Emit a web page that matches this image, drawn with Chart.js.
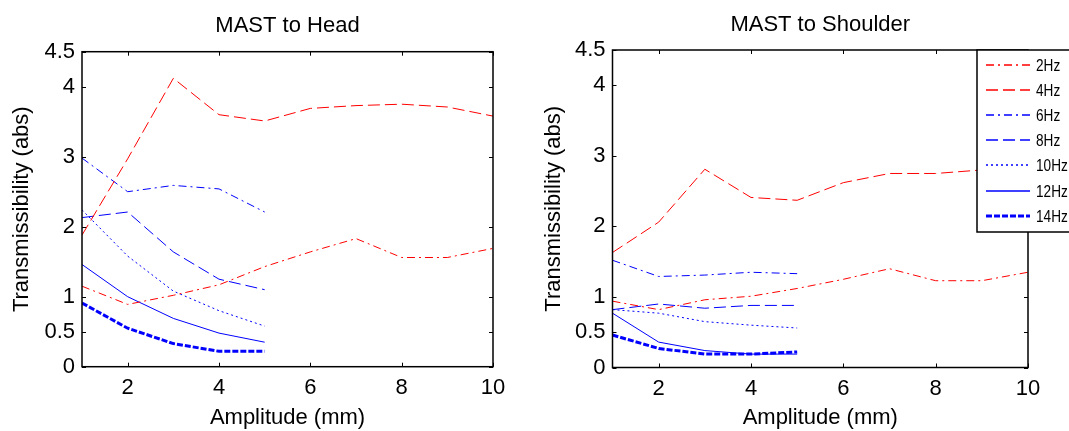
<!DOCTYPE html>
<html>
<head>
<meta charset="utf-8">
<title>MAST transmissibility</title>
<script src="https://cdn.jsdelivr.net/npm/chart.js@4.4.1/dist/chart.umd.min.js"></script>
<style>
  html, body { margin: 0; padding: 0; background: #fff; }
  #wrap { position: relative; width: 1069px; height: 431px; overflow: hidden; background: #fff; }
  canvas { position: absolute; top: 0; }
  #chartHead { left: 0; }
  #chartShoulder { left: 540px; }
</style>
</head>
<body>
<div id="wrap">
  <canvas id="chartHead" width="540" height="431"></canvas>
  <canvas id="chartShoulder" width="529" height="431"></canvas>
</div>
<script>
// amplitude (mm) on the x axis
const amplitude = [1, 2, 3, 4, 5, 6, 7, 8, 9, 10];
const xTicks = [2, 4, 6, 8, 10];
const yTicks = [0, 0.5, 1, 2, 3, 4, 4.5];
const freqLabels = ["2Hz", "4Hz", "6Hz", "8Hz", "10Hz", "12Hz", "14Hz"];

// MAST to Head
const head2Hz = [1.15, 0.89, 1.02, 1.17, 1.43, 1.64, 1.83, 1.56, 1.56, 1.69];
const head4Hz = [1.88, 2.97, 4.12, 3.60, 3.51, 3.69, 3.73, 3.75, 3.71, 3.58];
const head6Hz = [2.98, 2.50, 2.59, 2.54, 2.21];
const head8Hz = [2.13, 2.21, 1.64, 1.25, 1.10];
const head10Hz = [2.24, 1.58, 1.08, 0.80, 0.58];
const head12Hz = [1.46, 1.00, 0.69, 0.48, 0.35];
const head14Hz = [0.91, 0.55, 0.33, 0.22, 0.22];

// MAST to Shoulder
const sh2Hz = [0.94, 0.82, 0.96, 1.01, 1.12, 1.25, 1.40, 1.23, 1.23, 1.35];
const sh4Hz = [1.63, 2.06, 2.81, 2.41, 2.37, 2.62, 2.75, 2.75, 2.80, 2.85];
const sh6Hz = [1.52, 1.29, 1.31, 1.35, 1.33];
const sh8Hz = [0.82, 0.90, 0.84, 0.88, 0.88];
const sh10Hz = [0.82, 0.77, 0.65, 0.60, 0.56];
const sh12Hz = [0.77, 0.36, 0.24, 0.19, 0.19];
const sh14Hz = [0.46, 0.27, 0.19, 0.19, 0.22];

const FONT = "'Liberation Sans', Arial, Helvetica, sans-serif";
const RED = "#ff0000";
const BLUE = "#0000ff";

// line style per frequency (matlab-ish)
const lineStyles = [
  { color: RED, width: 1, dash: [8, 4, 2, 4] },
  { color: RED, width: 1, dash: [12, 5] },
  { color: BLUE, width: 1, dash: [8, 4, 2, 4] },
  { color: BLUE, width: 1, dash: [12, 5] },
  { color: BLUE, width: 1, dash: [2, 3] },
  { color: BLUE, width: 1, dash: [] },
  { color: BLUE, width: 3, dash: [6, 2] },
];

// box around plot area + inward ticks on all four sides
const frameTicks = {
  id: "frameTicks",
  afterDatasetsDraw(chart) {
    const { ctx, chartArea: a, scales } = chart;
    ctx.save();
    ctx.strokeStyle = "#000";
    ctx.lineWidth = 1;
    ctx.setLineDash([]);
    ctx.beginPath();
    scales.x.ticks.forEach((t) => {
      const px = Math.round(scales.x.getPixelForValue(t.value)) + 0.5;
      ctx.moveTo(px, a.bottom);
      ctx.lineTo(px, a.bottom - 4);
      ctx.moveTo(px, a.top);
      ctx.lineTo(px, a.top + 4);
    });
    scales.y.ticks.forEach((t) => {
      const py = Math.round(scales.y.getPixelForValue(t.value)) + 0.5;
      ctx.moveTo(a.left, py);
      ctx.lineTo(a.left + 4, py);
      ctx.moveTo(a.right, py);
      ctx.lineTo(a.right - 4, py);
    });
    ctx.stroke();
    ctx.lineWidth = 1.5;
    ctx.strokeRect(a.left, a.top, a.right - a.left, a.bottom - a.top);
    ctx.restore();
  },
};

// boxed legend sitting over the top right corner
const sideLegend = {
  id: "sideLegend",
  afterDraw(chart, args, opts) {
    if (!opts.show) return;
    const ctx = chart.ctx;
    const bx = 437, by = 50, bw = 110, bh = 182;
    ctx.save();
    ctx.fillStyle = "#fff";
    ctx.fillRect(bx, by, bw, bh);
    ctx.strokeStyle = "#000";
    ctx.lineWidth = 1.5;
    ctx.setLineDash([]);
    ctx.strokeRect(bx, by, bw, bh);
    chart.data.datasets.forEach((ds, i) => {
      const y = Math.round(65 + i * 25.1);
      ctx.save();
      ctx.strokeStyle = ds.borderColor;
      ctx.lineWidth = ds.borderWidth === 1 ? 1.3 : ds.borderWidth;
      ctx.setLineDash(ds.borderDash);
      ctx.beginPath();
      ctx.moveTo(446, y);
      ctx.lineTo(490, y);
      ctx.stroke();
      ctx.restore();

      ctx.save();
      ctx.fillStyle = "#000";
      ctx.font = "17px " + FONT;
      ctx.textBaseline = "middle";
      ctx.textAlign = "left";
      ctx.translate(496, y + 1);
      ctx.scale(0.8, 1);
      ctx.fillText(ds.label, 0, 0);
      ctx.restore();
    });
    ctx.restore();
  },
};

function buildChart(canvasId, cfg) {
  const datasets = cfg.series.map((vals, i) => ({
    label: freqLabels[i],
    data: vals.map((v, j) => ({ x: amplitude[j], y: v })),
    borderColor: lineStyles[i].color,
    borderWidth: lineStyles[i].width,
    borderDash: lineStyles[i].dash,
    pointRadius: 0,
    fill: false,
    tension: 0,
  }));

  const font = { family: FONT, size: 22, weight: "normal" };

  return new Chart(document.getElementById(canvasId), {
    type: "line",
    data: { datasets: datasets },
    options: {
      responsive: false,
      animation: false,
      devicePixelRatio: 1,
      layout: { padding: cfg.padding },
      plugins: {
        legend: { display: false },
        tooltip: { enabled: false },
        title: {
          display: true,
          text: cfg.title,
          color: "#000",
          font: font,
          fullSize: false,
          padding: cfg.titlePad,
        },
        sideLegend: { show: cfg.legend },
      },
      scales: {
        x: {
          type: "linear",
          min: 1,
          max: 10,
          afterBuildTicks: (s) => { s.ticks = xTicks.map((v) => ({ value: v })); },
          afterFit: (s) => { s.height = cfg.xHeight; },
          grid: { display: false, drawTicks: false },
          border: { display: false },
          ticks: { color: "#000", font: font, padding: 8, maxRotation: 0, callback: (v) => String(v) },
          title: { display: true, text: "Amplitude (mm)", color: "#000", font: font, padding: 0 },
        },
        y: {
          type: "linear",
          min: 0,
          max: 4.5,
          afterBuildTicks: (s) => { s.ticks = yTicks.map((v) => ({ value: v })); },
          afterFit: (s) => { s.width = cfg.yWidth; },
          grid: { display: false, drawTicks: false },
          border: { display: false },
          ticks: { color: "#000", font: font, padding: 7, callback: (v) => String(v) },
          title: { display: true, text: "Transmissibility (abs)", color: "#000", font: font, padding: 0 },
        },
      },
    },
    plugins: [frameTicks, sideLegend],
  });
}

buildChart("chartHead", {
  title: "MAST to Head",
  series: [head2Hz, head4Hz, head6Hz, head8Hz, head10Hz, head12Hz, head14Hz],
  padding: { left: 9, right: 47, top: 0, bottom: 0 },
  titlePad: { top: 12.5, bottom: 12.8 },
  xHeight: 64.3,
  yWidth: 73,
  legend: false,
});

buildChart("chartShoulder", {
  title: "MAST to Shoulder",
  series: [sh2Hz, sh4Hz, sh6Hz, sh8Hz, sh10Hz, sh12Hz, sh14Hz],
  padding: { left: 1, right: 41, top: 0, bottom: 0 },
  titlePad: { top: 11.8, bottom: 11.8 },
  xHeight: 63.5,
  yWidth: 71.5,
  legend: true,
});
</script>
</body>
</html>
